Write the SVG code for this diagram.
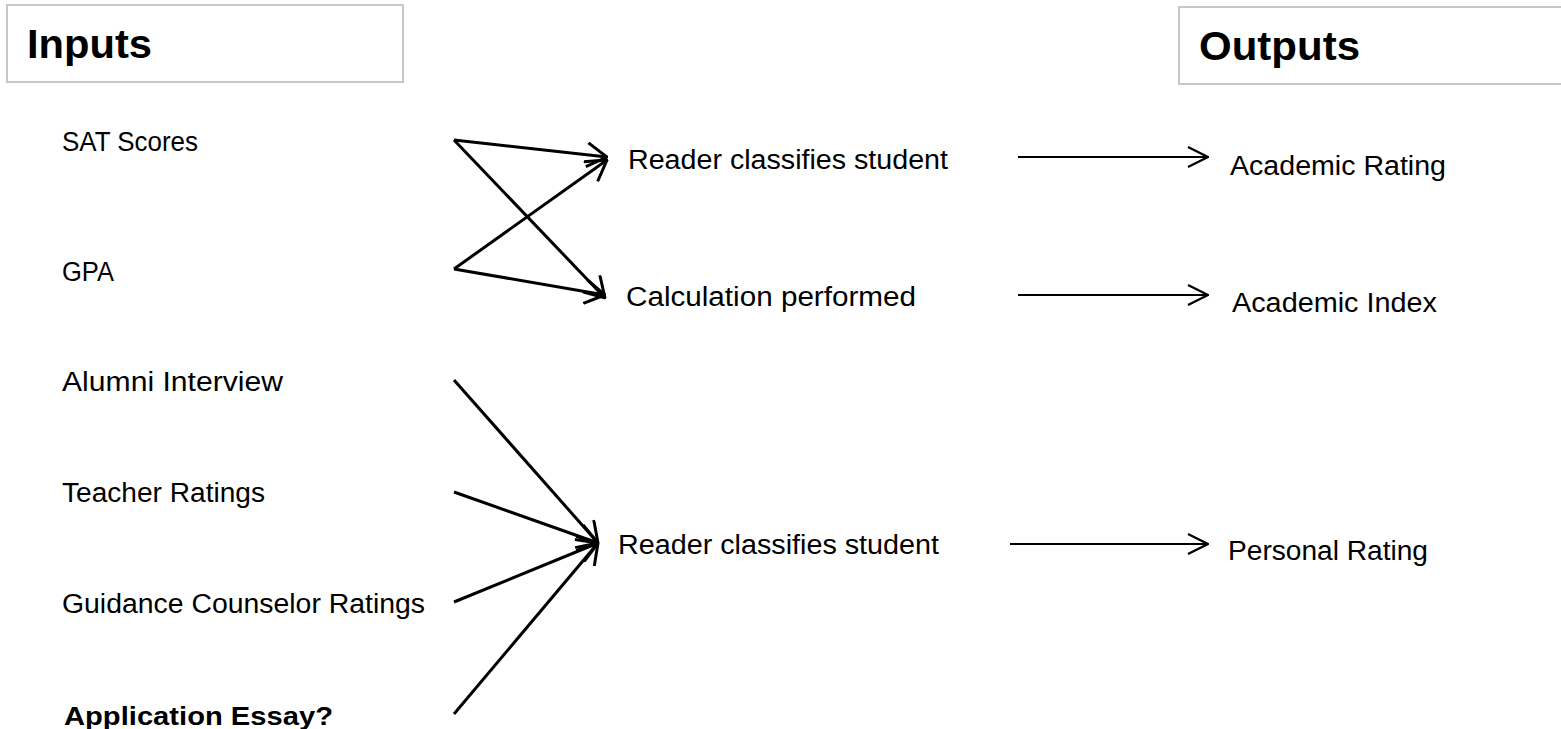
<svg xmlns="http://www.w3.org/2000/svg" width="1561" height="729" viewBox="0 0 1561 729">
<defs>
<marker id="ah" viewBox="0 0 22 26" refX="21" refY="13" markerWidth="22" markerHeight="26" markerUnits="userSpaceOnUse" orient="auto">
<path d="M1,1 L21,13 L1,25" fill="none" stroke="#000" stroke-width="3" stroke-linejoin="miter"/>
</marker>
<marker id="ah2" viewBox="0 0 22 24" refX="21" refY="12" markerWidth="22" markerHeight="24" markerUnits="userSpaceOnUse" orient="auto">
<path d="M1,2 L21,12 L1,22" fill="none" stroke="#000" stroke-width="2.4"/>
</marker>
</defs>
<style>
.t{font-family:"Liberation Sans",Arial,sans-serif;font-size:27px;fill:#000}
.h{font-family:"Liberation Sans",Arial,sans-serif;font-size:40px;font-weight:bold;fill:#000}
.b{font-family:"Liberation Sans",Arial,sans-serif;font-size:26px;font-weight:bold;fill:#000}
.box{fill:#fff;stroke:#c8c8c8;stroke-width:2}
.c{fill:none;stroke:#000;stroke-width:3;marker-end:url(#ah)}
.c2{fill:none;stroke:#000;stroke-width:2;marker-end:url(#ah2)}
</style>
<rect width="1561" height="729" fill="#fff"/>
<g id="inputs-header"><rect class="box" x="7" y="5" width="396" height="77"/><text class="h" x="27" y="58" textLength="125" lengthAdjust="spacingAndGlyphs">Inputs</text></g>
<g id="outputs-header"><rect class="box" x="1179" y="7" width="390" height="77"/><text class="h" x="1199" y="60" textLength="161" lengthAdjust="spacingAndGlyphs">Outputs</text></g>
<g id="sat"><text class="t" x="62" y="151" textLength="136" lengthAdjust="spacingAndGlyphs">SAT Scores</text></g>
<g id="gpa"><text class="t" x="62" y="281" textLength="52" lengthAdjust="spacingAndGlyphs">GPA</text></g>
<g id="alumni"><text class="t" x="62" y="391" textLength="221" lengthAdjust="spacingAndGlyphs">Alumni Interview</text></g>
<g id="teacher"><text class="t" x="62" y="502" textLength="203" lengthAdjust="spacingAndGlyphs">Teacher Ratings</text></g>
<g id="guidance"><text class="t" x="62" y="613" textLength="363" lengthAdjust="spacingAndGlyphs">Guidance Counselor Ratings</text></g>
<g id="essay"><text class="b" x="64" y="725" textLength="269" lengthAdjust="spacingAndGlyphs">Application Essay?</text></g>
<g id="reader1"><text class="t" x="628" y="169" textLength="320" lengthAdjust="spacingAndGlyphs">Reader classifies student</text></g>
<g id="calc"><text class="t" x="626" y="306" textLength="290" lengthAdjust="spacingAndGlyphs">Calculation performed</text></g>
<g id="reader2"><text class="t" x="618" y="554" textLength="321" lengthAdjust="spacingAndGlyphs">Reader classifies student</text></g>
<g id="acad-rating"><text class="t" x="1230" y="175" textLength="216" lengthAdjust="spacingAndGlyphs">Academic Rating</text></g>
<g id="acad-index"><text class="t" x="1232" y="312" textLength="205" lengthAdjust="spacingAndGlyphs">Academic Index</text></g>
<g id="personal"><text class="t" x="1228" y="560" textLength="200" lengthAdjust="spacingAndGlyphs">Personal Rating</text></g>
<g id="connectors">
<line class="c" x1="454" y1="140" x2="607" y2="157"/>
<line class="c" x1="454" y1="140" x2="605" y2="298"/>
<line class="c" x1="454" y1="269" x2="607" y2="160"/>
<line class="c" x1="454" y1="269" x2="605" y2="295"/>
<line class="c2" x1="1018" y1="157" x2="1208" y2="157"/>
<line class="c2" x1="1018" y1="295" x2="1208" y2="295"/>
<line class="c2" x1="1010" y1="544" x2="1208" y2="544"/>
<line class="c" x1="454" y1="380" x2="598" y2="543"/>
<line class="c" x1="454" y1="492" x2="598" y2="543"/>
<line class="c" x1="454" y1="602" x2="598" y2="543"/>
<line class="c" x1="454" y1="714" x2="598" y2="543"/>
</g>
</svg>
